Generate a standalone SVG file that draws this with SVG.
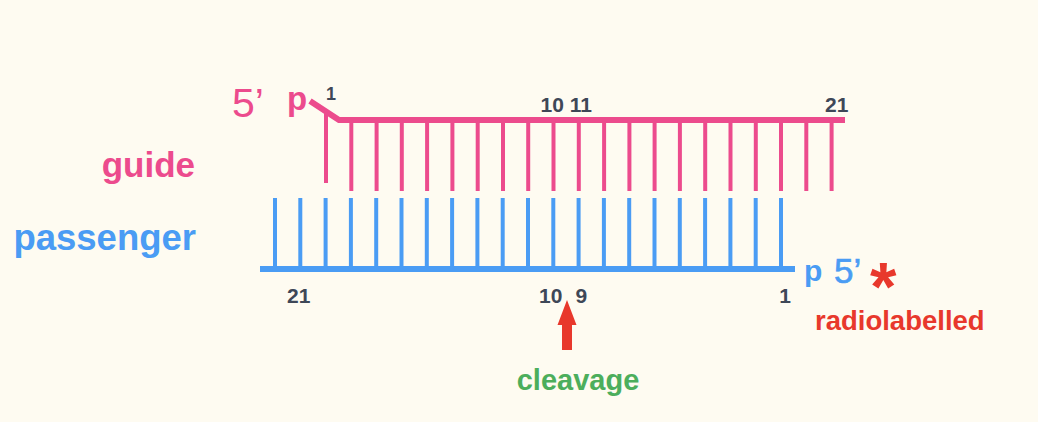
<svg xmlns="http://www.w3.org/2000/svg" width="1038" height="422" viewBox="0 0 1038 422">
<style>
.g{stroke:#ec4b8d;fill:none}
.p{stroke:#4a9cf4;fill:none}
.t{stroke-width:4}
.bb{stroke-width:6}
.num{font-family:"Liberation Sans",Arial,sans-serif;font-weight:bold;fill:#3e4757}
.lbl{font-family:"Liberation Sans",Arial,sans-serif;font-weight:bold}
.end{font-family:"Liberation Sans",Arial,sans-serif}
</style>
<rect width="1038" height="422" fill="#fefbf1"/>
<g id="guide">
<polyline class="g bb" points="310,101 339,120 845,120" stroke-linejoin="miter"/>
<line class="g t" x1="326" y1="113" x2="326" y2="183"/>
<g class="g t">
<line x1="351.3" y1="120" x2="351.3" y2="191"/>
<line x1="376.6" y1="120" x2="376.6" y2="191"/>
<line x1="401.8" y1="120" x2="401.8" y2="191"/>
<line x1="427.1" y1="120" x2="427.1" y2="191"/>
<line x1="452.4" y1="120" x2="452.4" y2="191"/>
<line x1="477.7" y1="120" x2="477.7" y2="191"/>
<line x1="503" y1="120" x2="503" y2="191"/>
<line x1="528.2" y1="120" x2="528.2" y2="191"/>
<line x1="553.5" y1="120" x2="553.5" y2="191"/>
<line x1="578.8" y1="120" x2="578.8" y2="191"/>
<line x1="604.1" y1="120" x2="604.1" y2="191"/>
<line x1="629.4" y1="120" x2="629.4" y2="191"/>
<line x1="654.6" y1="120" x2="654.6" y2="191"/>
<line x1="679.9" y1="120" x2="679.9" y2="191"/>
<line x1="705.2" y1="120" x2="705.2" y2="191"/>
<line x1="730.5" y1="120" x2="730.5" y2="191"/>
<line x1="755.8" y1="120" x2="755.8" y2="191"/>
<line x1="781" y1="120" x2="781" y2="191"/>
<line x1="806.3" y1="120" x2="806.3" y2="191"/>
<line x1="831.6" y1="120" x2="831.6" y2="191"/>
</g>
<text class="end" x="232" y="117" font-size="41" fill="#ec4b8d">5’</text>
<text class="lbl" x="287" y="110" font-size="33" fill="#ec4b8d">p</text>
<text class="num" x="331" y="100" font-size="18" text-anchor="middle">1</text>
<text class="num" x="540.5" y="112" font-size="21">10 11</text>
<text class="num" x="825" y="112" font-size="21">21</text>
<text class="lbl" x="195" y="177" font-size="35" fill="#ec4b8d" text-anchor="end">guide</text>
</g>
<g id="passenger">
<line class="p bb" x1="260" y1="269" x2="795" y2="269"/>
<g class="p t">
<line x1="275" y1="198" x2="275" y2="269"/>
<line x1="300.3" y1="198" x2="300.3" y2="269"/>
<line x1="325.6" y1="198" x2="325.6" y2="269"/>
<line x1="350.9" y1="198" x2="350.9" y2="269"/>
<line x1="376.2" y1="198" x2="376.2" y2="269"/>
<line x1="401.5" y1="198" x2="401.5" y2="269"/>
<line x1="426.8" y1="198" x2="426.8" y2="269"/>
<line x1="452.1" y1="198" x2="452.1" y2="269"/>
<line x1="477.4" y1="198" x2="477.4" y2="269"/>
<line x1="502.7" y1="198" x2="502.7" y2="269"/>
<line x1="528" y1="198" x2="528" y2="269"/>
<line x1="553.3" y1="198" x2="553.3" y2="269"/>
<line x1="578.6" y1="198" x2="578.6" y2="269"/>
<line x1="603.9" y1="198" x2="603.9" y2="269"/>
<line x1="629.2" y1="198" x2="629.2" y2="269"/>
<line x1="654.5" y1="198" x2="654.5" y2="269"/>
<line x1="679.8" y1="198" x2="679.8" y2="269"/>
<line x1="705.1" y1="198" x2="705.1" y2="269"/>
<line x1="730.4" y1="198" x2="730.4" y2="269"/>
<line x1="755.7" y1="198" x2="755.7" y2="269"/>
<line x1="781" y1="198" x2="781" y2="269"/>
</g>
<text class="lbl" x="804" y="281" font-size="30" fill="#4a9cf4">p</text>
<text class="end" x="834" y="283" font-size="35" fill="#4a9cf4" stroke="#4a9cf4" stroke-width="0.6">5’</text>
<text class="num" x="287" y="303" font-size="21">21</text>
<text class="num" x="539" y="303" font-size="21">10</text>
<text class="num" x="575.5" y="303" font-size="21">9</text>
<text class="num" x="785" y="303" font-size="21" text-anchor="middle">1</text>
<text class="lbl" x="196" y="250" font-size="36.5" fill="#4a9cf4" text-anchor="end">passenger</text>
</g>
<g id="radiolabel">
<text class="lbl" x="870" y="310" font-size="68" fill="#e8382c">*</text>
<text class="lbl" x="815" y="330" font-size="27.5" fill="#e8382c">radiolabelled</text>
</g>
<g id="connectors">
<polygon points="567,300 557.5,325 562,325 562,350 572,350 572,325 576.5,325" fill="#e8382c"/>
</g>
<g id="cleavage">
<text class="lbl" x="578" y="390" font-size="29" fill="#4cae5c" text-anchor="middle">cleavage</text>
</g>
</svg>
